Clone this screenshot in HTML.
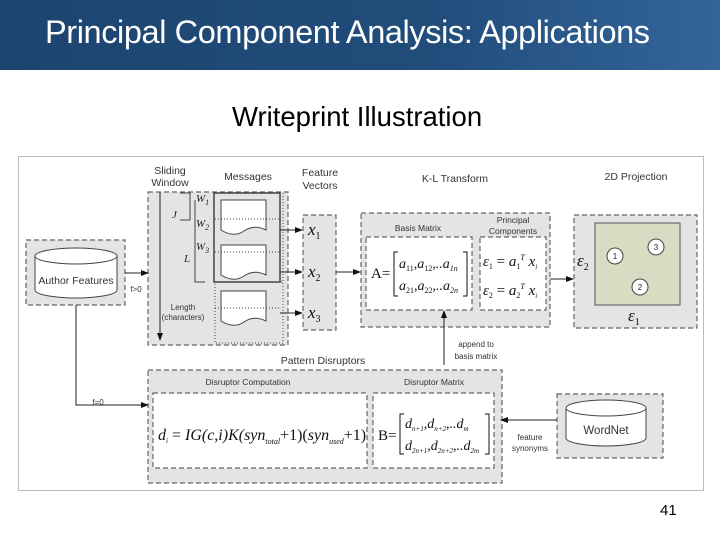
<!DOCTYPE html>
<html><head><meta charset="utf-8"><style>
body{margin:0;width:720px;height:540px;overflow:hidden;background:#fff;font-family:"Liberation Sans",sans-serif}
.hdr{position:absolute;left:0;top:0;width:720px;height:70px;background:linear-gradient(90deg,#1d4470 0%,#214d7b 60%,#33659a 100%)}
.t{position:absolute;left:45px;top:14px;color:#fff;font-size:32.5px;letter-spacing:-0.4px;white-space:nowrap}
.st{position:absolute;left:232px;top:101px;font-size:27.5px;color:#000;white-space:nowrap}
.pn{position:absolute;left:660px;top:502px;font-size:15px}
svg{position:absolute;left:0;top:0}
</style></head><body>
<div class="hdr"></div>
<div class="t">Principal Component Analysis: Applications</div>
<div class="st">Writeprint Illustration</div>
<div class="pn">41</div>
<svg width="720" height="540" font-family="Liberation Sans, sans-serif">
<defs><marker id="a" markerWidth="8" markerHeight="8" refX="7" refY="4" orient="auto"><path d="M0,1 L8,4 L0,7z" fill="#111"/></marker></defs>
<rect x="18.5" y="156.5" width="685" height="334" fill="#fff" stroke="#bbb"/>
<g stroke="#666" stroke-dasharray="5,3" stroke-width="1.2" fill="#e4e4e4">
<rect x="26" y="240" width="99" height="65"/>
<rect x="148" y="192" width="140" height="153"/>
<rect x="303" y="215" width="33" height="115"/>
<rect x="361" y="213" width="189" height="114"/>
<rect x="574" y="215" width="123" height="113"/>
<rect x="148" y="370" width="354" height="113"/>
<rect x="557" y="394" width="106" height="64"/>
</g>
<g stroke="#666" stroke-dasharray="5,3" stroke-width="1.2" fill="#fff">
<rect x="366" y="237" width="106" height="73"/>
<rect x="480" y="237" width="66" height="73"/>
<rect x="153" y="393" width="214" height="75"/>
<rect x="373" y="393" width="121" height="75"/>
</g>
<g stroke="#444" fill="#fff">
<path d="M35,256 v34 a41,8 0 0 0 82,0 v-34"/><ellipse cx="76" cy="256" rx="41" ry="8"/>
<path d="M566,408 v30 a40,8 0 0 0 80,0 v-30"/><ellipse cx="606" cy="408" rx="40" ry="8"/>
</g>
<text x="76" y="284" font-size="10.5" text-anchor="middle" fill="#333">Author Features</text>
<text x="606" y="434" font-size="11.5" text-anchor="middle" fill="#333">WordNet</text>
<g stroke="#222" fill="none" marker-end="url(#a)">
<path d="M125,273 H148"/>
<path d="M76,305 V405 H148"/>
<path d="M280,230 H302"/><path d="M280,272 H302"/><path d="M280,313 H302"/>
<path d="M336,272 H360"/>
<path d="M550,279 H573"/>
<path d="M444,365 V311"/>
<path d="M557,420 H501"/>
<path d="M160,192 V340"/>
</g>
<g font-size="8" fill="#333" text-anchor="middle">
<text x="136" y="292">f&gt;0</text><text x="98" y="405">f=0</text>
<text x="476" y="347">append to</text><text x="476" y="359">basis matrix</text>
<text x="530" y="440">feature</text><text x="530" y="451">synonyms</text>
<text x="183" y="310">Length</text><text x="183" y="320">(characters)</text>
</g>
<g font-size="10.5" fill="#333" text-anchor="middle">
<text x="170" y="174">Sliding</text><text x="170" y="186">Window</text>
<text x="248" y="180">Messages</text>
<text x="320" y="176">Feature</text><text x="320" y="189">Vectors</text>
<text x="455" y="182">K-L Transform</text>
<text x="636" y="180">2D Projection</text>
<text x="323" y="364">Pattern Disruptors</text>
</g>
<g font-size="8.5" fill="#333" text-anchor="middle">
<text x="418" y="231">Basis Matrix</text>
<text x="513" y="223">Principal</text><text x="513" y="234">Components</text>
<text x="248" y="385">Disruptor Computation</text>
<text x="434" y="385">Disruptor Matrix</text>
</g>
<g stroke="#444" fill="none">
<path d="M180,193 H190 V220 H180"/><path d="M195,200 V282 H205"/>
<rect x="214" y="193" width="66" height="89" stroke-width="1.5"/>
<rect x="215" y="282" width="68" height="61" stroke-dasharray="1,2"/>
<path d="M283,193 V282" stroke-dasharray="1,2"/>
<path d="M221,200 H266 V230 q-12,-6 -22,1 t-23,-1 z" fill="#fff"/>
<path d="M221,245 H266 V275 q-12,-6 -22,1 t-23,-1 z" fill="#fff"/>
<path d="M221,291 H266 V321 q-12,-6 -22,1 t-23,-1 z" fill="#fff"/>
<path d="M215,219 H280 M215,252 H280 M215,308 H280" stroke-dasharray="1,2"/>
</g>
<g font-family="Liberation Serif, serif" font-style="italic" font-size="11" fill="#222">
<text x="196" y="202">W<tspan font-size="8" dy="3">1</tspan></text>
<text x="196" y="227">W<tspan font-size="8" dy="3">2</tspan></text>
<text x="196" y="250">W<tspan font-size="8" dy="3">3</tspan></text>
<text x="172" y="218">J</text><text x="184" y="262">L</text>
</g>
<g font-family="Liberation Serif, serif" font-style="italic" font-size="17" fill="#111">
<text x="308" y="235">x<tspan font-size="10" dy="4" font-style="normal">1</tspan></text>
<text x="308" y="277">x<tspan font-size="10" dy="4" font-style="normal">2</tspan></text>
<text x="308" y="318">x<tspan font-size="10" dy="4" font-style="normal">3</tspan></text>
</g>
<g font-family="Liberation Serif, serif" fill="#111">
<text x="371" y="278" font-size="15">A=</text>
<path d="M398,252 h-4 v44 h4 M463,252 h4 v44 h-4" stroke="#111" fill="none"/>
<text x="399" y="268" font-size="14" font-style="italic">a<tspan font-size="8" dy="3" font-style="normal">11</tspan><tspan dy="-3">,a</tspan><tspan font-size="8" dy="3" font-style="normal">12</tspan><tspan dy="-3">,..a</tspan><tspan font-size="8" dy="3">1n</tspan></text>
<text x="399" y="290" font-size="14" font-style="italic">a<tspan font-size="8" dy="3" font-style="normal">21</tspan><tspan dy="-3">,a</tspan><tspan font-size="8" dy="3" font-style="normal">22</tspan><tspan dy="-3">,..a</tspan><tspan font-size="8" dy="3">2n</tspan></text>
<text x="483" y="266" font-size="15" font-style="italic">ε<tspan font-size="8" dy="3" font-style="normal">1</tspan><tspan dy="-3" font-style="normal"> = </tspan>a<tspan font-size="8" dy="3" font-style="normal">1</tspan><tspan font-size="8" dy="-9">T</tspan><tspan dy="6"> x</tspan><tspan font-size="7" dy="3">i</tspan></text>
<text x="483" y="295" font-size="15" font-style="italic">ε<tspan font-size="8" dy="3" font-style="normal">2</tspan><tspan dy="-3" font-style="normal"> = </tspan>a<tspan font-size="8" dy="3" font-style="normal">2</tspan><tspan font-size="8" dy="-9">T</tspan><tspan dy="6"> x</tspan><tspan font-size="7" dy="3">i</tspan></text>
<text x="577" y="266" font-size="17" font-style="italic">ε<tspan font-size="10" dy="4" font-style="normal">2</tspan></text>
<text x="628" y="321" font-size="17" font-style="italic">ε<tspan font-size="10" dy="4" font-style="normal">1</tspan></text>
<text x="158" y="440" font-size="16" font-style="italic">d<tspan font-size="7" dy="3">i</tspan><tspan dy="-3" font-style="normal"> = </tspan>IG(c,i)K(syn<tspan font-size="8" dy="4">total</tspan><tspan dy="-4" font-style="normal">+1)(</tspan>syn<tspan font-size="8" dy="4">used</tspan><tspan dy="-4" font-style="normal">+1)</tspan></text>
<text x="378" y="440" font-size="15">B=</text>
<path d="M404,414 h-4 v40 h4 M485,414 h4 v40 h-4" stroke="#111" fill="none"/>
<text x="405" y="428" font-size="14" font-style="italic">d<tspan font-size="7" dy="3">n+1</tspan><tspan dy="-3">,d</tspan><tspan font-size="7" dy="3">n+2</tspan><tspan dy="-3">,..d</tspan><tspan font-size="7" dy="3">m</tspan></text>
<text x="405" y="450" font-size="14" font-style="italic">d<tspan font-size="7" dy="3">2n+1</tspan><tspan dy="-3">,d</tspan><tspan font-size="7" dy="3">2n+2</tspan><tspan dy="-3">,..d</tspan><tspan font-size="7" dy="3">2m</tspan></text>
</g>
<rect x="595" y="223" width="85" height="82" fill="#d9dcc3" stroke="#555"/>
<g fill="#fff" stroke="#444"><circle cx="615" cy="256" r="8"/><circle cx="656" cy="247" r="8"/><circle cx="640" cy="287" r="8"/></g>
<g font-size="8" text-anchor="middle" fill="#222"><text x="615" y="259">1</text><text x="656" y="250">3</text><text x="640" y="290">2</text></g>
</svg>
</body></html>
